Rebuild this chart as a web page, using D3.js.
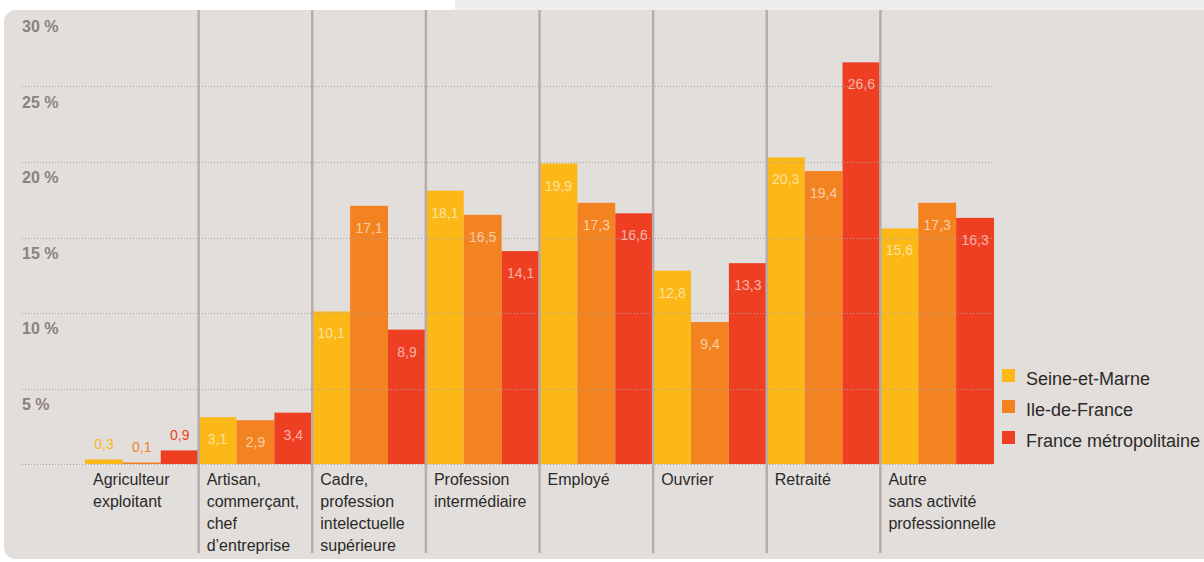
<!DOCTYPE html>
<html>
<head>
<meta charset="utf-8">
<script src="https://cdn.jsdelivr.net/npm/d3@7"></script>
<style>
  html, body { margin: 0; padding: 0; background: #ffffff; }
  svg { display: block; font-family: "Liberation Sans", Arial, sans-serif; }
</style>
</head>
<body>
<svg id="chart" width="1204" height="562"></svg>
<script>
// Socio-professional categories (lines of each label split by "\n")
const categories = [
  "Agriculteur\nexploitant",
  "Artisan,\ncommerçant,\nchef\nd’entreprise",
  "Cadre,\nprofession\nintelectuelle\nsupérieure",
  "Profession\nintermédiaire",
  "Employé",
  "Ouvrier",
  "Retraité",
  "Autre\nsans activité\nprofessionnelle"
];
const seriesNames = ["Seine-et-Marne", "Ile-de-France", "France métropolitaine"];
const seineEtMarne = [0.3, 3.1, 10.1, 18.1, 19.9, 12.8, 20.3, 15.6];
const ileDeFrance  = [0.1, 2.9, 17.1, 16.5, 17.3, 9.4, 19.4, 17.3];
const franceMetro  = [0.9, 3.4, 8.9, 14.1, 16.6, 13.3, 26.6, 16.3];
const tickValues = [5, 10, 15, 20, 25, 30];
const colors = ["#fbb817", "#f38321", "#ef3f23"];

const seriesValues = [seineEtMarne, ileDeFrance, franceMetro];
const svg = d3.select("#chart");

// Background: header strip and the rounded panel
svg.append("rect").attr("x", 455).attr("y", 0).attr("width", 749).attr("height", 12).attr("fill", "#ecedef");
svg.append("rect").attr("x", 4).attr("y", 10).attr("width", 1230).attr("height", 549)
  .attr("rx", 12).attr("fill", "#e2dedb");

const y = d3.scaleLinear().domain([0, 30]).range([464, 11]);
const x = d3.scaleBand().domain(categories).range([85, 994]).padding(0);
const xs = d3.scaleBand().domain(seriesNames).range([0, x.bandwidth()]).padding(0);

const fmt = v => d3.format(".1f")(v).replace(".", ",");

// Bars
const groups = svg.append("g").selectAll("g").data(categories).join("g")
  .attr("transform", d => `translate(${x(d)},0)`);

groups.selectAll("rect")
  .data((d, i) => seriesNames.map((s, k) => ({ s, k, v: seriesValues[k][i] })))
  .join("rect")
  .attr("x", d => xs(d.s))
  .attr("width", xs.bandwidth())
  .attr("y", d => y(d.v))
  .attr("height", d => y(0) - y(d.v))
  .attr("fill", d => colors[d.k]);

// Dotted gridlines drawn over the bars
const gridVals = [0, 5, 10, 15, 20, 25];
svg.append("g").selectAll("line").data(gridVals).join("line")
  .attr("x1", 22).attr("x2", 994)
  .attr("y1", d => Math.round(y(d)) + 0.5).attr("y2", d => Math.round(y(d)) + 0.5)
  .attr("stroke", "#a9a4a2").attr("stroke-width", 1).attr("stroke-dasharray", "1,2");

// Y tick labels
svg.append("g").selectAll("text").data(tickValues).join("text")
  .attr("x", 22).attr("y", d => y(d) + 21)
  .attr("font-size", 16).attr("font-weight", "bold").attr("fill", "#8b817d")
  .text(d => d + " %");

// Vertical separators between categories
svg.append("g").selectAll("line").data(categories.slice(1)).join("line")
  .attr("x1", d => x(d)).attr("x2", d => x(d))
  .attr("y1", 10).attr("y2", 553)
  .attr("stroke", "#b7aca8").attr("stroke-width", 2.5);

// Value labels
groups.selectAll("text.val")
  .data((d, i) => seriesNames.map((s, k) => ({ s, k, v: seriesValues[k][i] })))
  .join("text")
  .attr("class", "val")
  .attr("x", d => xs(d.s) + xs.bandwidth() / 2)
  .attr("y", d => d.v < 1 ? y(d.v) - 10 : y(d.v) + 27)
  .attr("text-anchor", "middle")
  .attr("font-size", 14)
  .attr("fill", d => d.v < 1 ? colors[d.k] : "#ffffff")
  .attr("fill-opacity", d => d.v < 1 ? 1 : 0.6)
  .text(d => fmt(d.v));

// Category labels
groups.append("text")
  .attr("font-size", 16).attr("fill", "#2b2a29")
  .selectAll("tspan").data(d => d.split("\n")).join("tspan")
  .attr("x", 8).attr("y", (d, i) => 485 + i * 22)
  .text(d => d);

// Legend
const legend = svg.append("g").selectAll("g").data(seriesNames).join("g")
  .attr("transform", (d, i) => `translate(1002,${369 + i * 31})`);
legend.append("rect").attr("width", 13).attr("height", 13).attr("fill", (d, i) => colors[i]);
legend.append("text").attr("x", 24).attr("y", 16)
  .attr("font-size", 18).attr("fill", "#2b2a29").text(d => d);
</script>
</body>
</html>
